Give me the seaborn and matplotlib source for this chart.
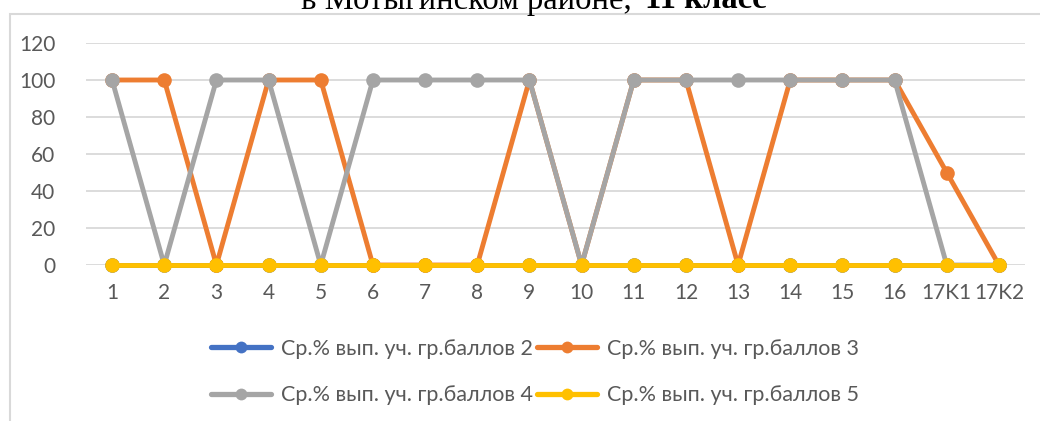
import numpy as np
import pandas as pd
import matplotlib
matplotlib.use('Agg')
import matplotlib.pyplot as plt
import matplotlib.patches as mpatches
from matplotlib.lines import Line2D
import seaborn as sns

# ── data ─────────────────────────────────────────────────────
categories = ['1', '2', '3', '4', '5', '6', '7', '8', '9', '10',
              '11', '12', '13', '14', '15', '16', '17K1', '17K2']
score_2 = [0, 0, 0, 0, 0, 0, 0, 0, 0, 0, 0, 0, 0, 0, 0, 0, 0, 0]
score_3 = [100, 100, 0, 100, 100, 0, 0, 0, 100, 0, 100, 100, 0, 100, 100, 100, 50, 0]
score_4 = [100, 0, 100, 100, 0, 100, 100, 100, 100, 0, 100, 100, 100, 100, 100, 100, 0, 0]
score_5 = [0, 0, 0, 0, 0, 0, 0, 0, 0, 0, 0, 0, 0, 0, 0, 0, 0, 0]

series_names = ['Ср.% вып. уч. гр.баллов 2', 'Ср.% вып. уч. гр.баллов 3',
                'Ср.% вып. уч. гр.баллов 4', 'Ср.% вып. уч. гр.баллов 5']
series_vals = [score_2, score_3, score_4, score_5]
colors = ['#4472C4', '#ED7D31', '#A5A5A5', '#FFC000']

sns.set_theme(style='white')
plt.rcParams['font.family'] = ['Lato', 'DejaVu Sans']

W, H = 1040, 421
fig = plt.figure(figsize=(W / 100, H / 100), dpi=100)
ax = fig.add_axes([86 / W, 1 - 265 / H, (1025 - 86) / W, (265 - 43) / H])

# chart area border
fig.patches.append(mpatches.Rectangle((9.5 / W, -0.1), 1.2, 1.1 - 13.5 / H,
                   transform=fig.transFigure, fill=False,
                   edgecolor='#D9D9D9', linewidth=1.5, zorder=0))

pos = np.arange(len(categories))
for name, vals, col in zip(series_names, series_vals, colors):
    df = pd.DataFrame({'x': pos, 'y': vals})
    sns.lineplot(data=df, x='x', y='y', ax=ax, color=col, linewidth=3.5,
                 marker='o', markersize=10.5, markeredgewidth=0,
                 clip_on=False, zorder=3)

ax.set_xlim(-0.5, len(categories) - 0.5)
ax.set_ylim(0, 120)
ax.set_yticks(range(0, 121, 20))
ax.set_xticks(pos)
ax.set_xticklabels(categories)
ax.grid(axis='y', color='#D9D9D9', linewidth=1.3)
ax.grid(axis='x', visible=False)
for s in ax.spines.values():
    s.set_visible(False)
ax.tick_params(axis='both', length=0, labelsize=15, colors='#595959')
ax.tick_params(axis='y', pad=22)
ax.tick_params(axis='x', pad=13)
ax.set_xlabel('')
ax.set_ylabel('')

# legend, row-major order like Excel
handles = [Line2D([], [], color=c, linewidth=3.8, marker='o', markersize=8.5,
                  markeredgewidth=0) for c in colors]
order = [0, 2, 1, 3]
fig.legend([handles[i] for i in order], [series_names[i] for i in order],
           ncol=2, loc='center', bbox_to_anchor=(535 / W, 1 - 372 / H),
           frameon=False, fontsize=15.5, labelcolor='#595959',
           handlelength=2.8, handletextpad=0.45, columnspacing=0.2,
           labelspacing=1.25)

# title (cut off at the top of the picture)
fig.text(632 / W, 1 - 8.5 / H, 'в Мотыгинском районе,', ha='right',
         va='baseline', fontsize=23.5, family='Liberation Serif', color='black')
fig.text(645 / W, 1 - 8.5 / H, '11 класс', ha='left', va='baseline',
         fontsize=23.5, family='Liberation Serif', fontweight='bold', color='black')

fig.savefig('out.png', dpi=100)
